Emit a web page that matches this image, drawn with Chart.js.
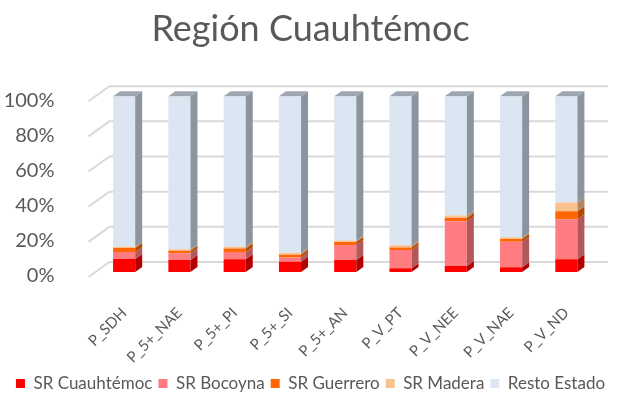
<!DOCTYPE html>
<html>
<head>
<meta charset="utf-8">
<script src="https://cdn.jsdelivr.net/npm/chart.js@4"></script>
<style>
  html, body { margin: 0; padding: 0; background: #fff; }
  #wrap { width: 621px; height: 402px; }
</style>
</head>
<body>
<div id="wrap"><canvas id="myChart"></canvas></div>
<script>
const categorias = ['P_SDH', 'P_5+_NAE', 'P_5+_PI', 'P_5+_SI', 'P_5+_AN', 'P_V_PT', 'P_V_NEE', 'P_V_NAE', 'P_V_ND'];

const srCuauhtemoc = [7.4, 6.8, 7.2, 5.9, 6.8, 2.1, 3.4, 2.7, 7.2];
const srBocoyna    = [4.0, 3.8, 4.2, 2.4, 8.5, 10.4, 25.4, 14.5, 22.8];
const srGuerrero   = [2.2, 1.5, 1.9, 1.5, 1.7, 1.5, 1.9, 1.6, 4.5];
const srMadera     = [0.8, 0.8, 1.1, 1.2, 0.9, 1.2, 1.5, 0.9, 5.1];
const restoEstado  = [85.6, 87.1, 85.6, 89.0, 82.1, 84.8, 67.8, 80.3, 60.4];

const ticksY = [0, 20, 40, 60, 80, 100];

const fuente = 'Lato, "Open Sans", sans-serif';
const gris = '#595959';

// colores de cara frontal / lateral
const frente = ['#ff0000', '#ff7c80', '#ff6600', '#f9c090', '#dce6f2'];
const lado   = ['#b00000', '#b3585a', '#b34700', '#b08866', '#8c959f'];

const DX = 7, DY = 5;

const efecto3d = {
  id: 'efecto3d',
  beforeDatasetsDraw(chart) {
    const c = chart.ctx;
    const area = chart.chartArea;
    const y = chart.scales.y;
    c.save();
    c.strokeStyle = '#d9d9d9';
    c.lineWidth = 2;
    ticksY.forEach(t => {
      const py = y.getPixelForValue(t);
      c.beginPath();
      c.moveTo(area.left - 8, py + 5);
      c.lineTo(area.left + 13, py - 10);
      c.lineTo(area.right + 14, py - 10);
      c.stroke();
    });
    c.restore();
  },
  afterDatasetsDraw(chart) {
    const c = chart.ctx;
    const n = chart.data.datasets.length;
    c.save();
    chart.data.datasets.forEach((ds, i) => {
      const meta = chart.getDatasetMeta(i);
      meta.data.forEach(bar => {
        const p = bar.getProps(['x', 'y', 'base', 'width'], true);
        const l = p.x - p.width / 2, r = p.x + p.width / 2;
        const top = Math.min(p.y, p.base), bot = Math.max(p.y, p.base);
        c.fillStyle = lado[i];
        c.beginPath();
        c.moveTo(r, top);
        c.lineTo(r + DX, top - DY);
        c.lineTo(r + DX, bot - DY);
        c.lineTo(r, bot);
        c.closePath();
        c.fill();
        if (i === n - 1) {
          c.fillStyle = '#9ea7b1';
          c.beginPath();
          c.moveTo(l, top);
          c.lineTo(l + DX, top - DY);
          c.lineTo(r + DX, top - DY);
          c.lineTo(r, top);
          c.closePath();
          c.fill();
        }
      });
    });
    c.restore();
  }
};

const ctx = document.getElementById('myChart');

const chart = new Chart(ctx, {
  type: 'bar',
  data: {
    labels: categorias,
    datasets: [
      { label: 'SR Cuauhtémoc', data: srCuauhtemoc, backgroundColor: frente[0] },
      { label: 'SR Bocoyna', data: srBocoyna, backgroundColor: frente[1] },
      { label: 'SR Guerrero', data: srGuerrero, backgroundColor: frente[2] },
      { label: 'SR Madera', data: srMadera, backgroundColor: frente[3] },
      { label: 'Resto Estado', data: restoEstado, backgroundColor: frente[4] }
    ]
  },
  options: {
    responsive: true,
    maintainAspectRatio: false,
    animation: false,
    devicePixelRatio: 1,
    categoryPercentage: 1,
    barPercentage: 0.4,
    layout: { padding: { top: 0, bottom: 0, left: 0, right: 0 } },
    plugins: {
      title: {
        display: true,
        text: 'Región Cuauhtémoc',
        color: gris,
        font: { family: fuente, size: 36, weight: 'normal' },
        padding: { top: 8, bottom: 45 }
      },
      legend: {
        position: 'bottom',
        labels: {
          color: gris,
          font: { family: fuente, size: 17 },
          boxWidth: 9,
          boxHeight: 9,
          padding: 6
        }
      },
      tooltip: { enabled: false }
    },
    scales: {
      x: {
        stacked: true,
        grid: { display: false },
        border: { display: false },
        ticks: {
          color: gris,
          font: { family: fuente, size: 15 },
          minRotation: 45,
          maxRotation: 45,
          padding: 24
        },
        afterFit(scale) { scale.height = 97; }
      },
      y: {
        stacked: true,
        min: 0,
        max: 100,
        grid: { display: false },
        border: { display: false },
        afterBuildTicks(scale) { scale.ticks = ticksY.map(v => ({ value: v })); },
        ticks: {
          color: gris,
          font: { family: fuente, size: 20 },
          padding: 34,
          labelOffset: 4,
          callback: v => v + '%'
        },
        afterFit(scale) { scale.width = 96.5; }
      },
      // eje vacio a la derecha para dejar el margen sin descentrar titulo y leyenda
      yDer: {
        position: 'right',
        display: true,
        grid: { display: false },
        border: { display: false },
        ticks: { display: false },
        afterFit(scale) { scale.width = 27; }
      }
    }
  },
  plugins: [efecto3d]
});
</script>
</body>
</html>
